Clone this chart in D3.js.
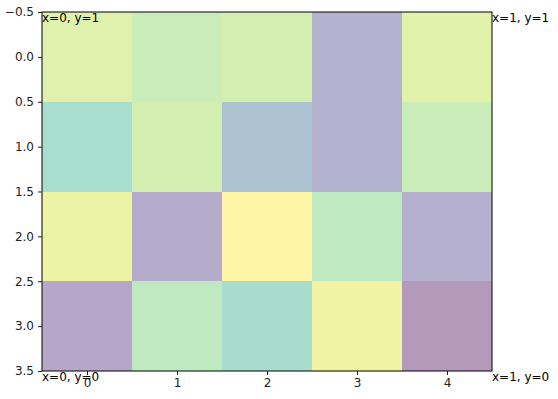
<!DOCTYPE html>
<html>
<head>
<meta charset="utf-8">
<script src="https://cdn.jsdelivr.net/npm/d3@7"></script>
<style>
  body { margin: 0; background: #fff; }
  text { font-family: "DejaVu Sans", sans-serif; }
</style>
</head>
<body>
<svg width="558" height="399"></svg>
<script>
// image values (rows top to bottom), mapped through viridis
const cols = [0, 1, 2, 3, 4];
const rows = [0, 1, 2, 3];
const values = [
  [0.88, 0.80, 0.84, 0.19, 0.89],
  [0.62, 0.84, 0.33, 0.19, 0.80],
  [0.93, 0.14, 1.00, 0.75, 0.17],
  [0.10, 0.75, 0.60, 0.94, 0.00]
];
const yTicks = [-0.5, 0.0, 0.5, 1.0, 1.5, 2.0, 2.5, 3.0, 3.5];
const corners = [
  { label: "x=0, y=1", ax: 0, ay: 1 },
  { label: "x=1, y=1", ax: 1, ay: 1 },
  { label: "x=0, y=0", ax: 0, ay: 0 },
  { label: "x=1, y=0", ax: 1, ay: 0 }
];

const svg = d3.select("svg");
const mLeft = 42, mRight = 492, mTop = 12, mBottom = 371;

const x = d3.scaleLinear().domain([-0.5, 4.5]).range([mLeft, mRight]);
const y = d3.scaleLinear().domain([-0.5, 3.5]).range([mTop, mBottom]);
const color = d3.scaleSequential(d3.interpolateViridis).domain([0, 1]);

const cells = [];
values.forEach((row, j) => row.forEach((v, i) => cells.push({ i, j, v })));

svg.append("g").selectAll("rect").data(cells).enter().append("rect")
  .attr("x", d => x(d.i - 0.5))
  .attr("y", d => y(d.j - 0.5))
  .attr("width", x(0.5) - x(-0.5))
  .attr("height", y(0.5) - y(-0.5))
  .attr("fill", d => color(d.v))
  .attr("fill-opacity", 0.4)
  .attr("shape-rendering", "crispEdges");

svg.append("rect")
  .attr("x", mLeft).attr("y", mTop)
  .attr("width", mRight - mLeft).attr("height", mBottom - mTop)
  .attr("fill", "none").attr("stroke", "#000").attr("stroke-width", 1);

const fmt = d => (d < 0 ? "\u2212" : "") + Math.abs(d).toFixed(1);

const yAxis = svg.append("g").attr("transform", `translate(${mLeft},0)`)
  .call(d3.axisLeft(y).tickValues(yTicks).tickFormat(fmt).tickSize(4).tickPadding(4));
const xAxis = svg.append("g").attr("transform", `translate(0,${mBottom})`)
  .call(d3.axisBottom(x).tickValues(cols).tickFormat(d3.format("d")).tickSize(4).tickPadding(3));

[xAxis, yAxis].forEach(g => {
  g.select(".domain").remove();
  g.selectAll("text").attr("font-size", 12).attr("fill", "#222")
    .attr("font-family", "DejaVu Sans, sans-serif");
  g.selectAll("line").attr("stroke", "#222");
});

const ax = d3.scaleLinear().domain([0, 1]).range([mLeft, mRight]);
const ay = d3.scaleLinear().domain([0, 1]).range([mBottom, mTop]);
svg.append("g").selectAll("text").data(corners).enter().append("text")
  .attr("x", d => ax(d.ax))
  .attr("y", d => ay(d.ay))
  .attr("dy", "0.8em")
  .attr("font-size", 12)
  .attr("fill", "#000")
  .text(d => d.label);
</script>
</body>
</html>
